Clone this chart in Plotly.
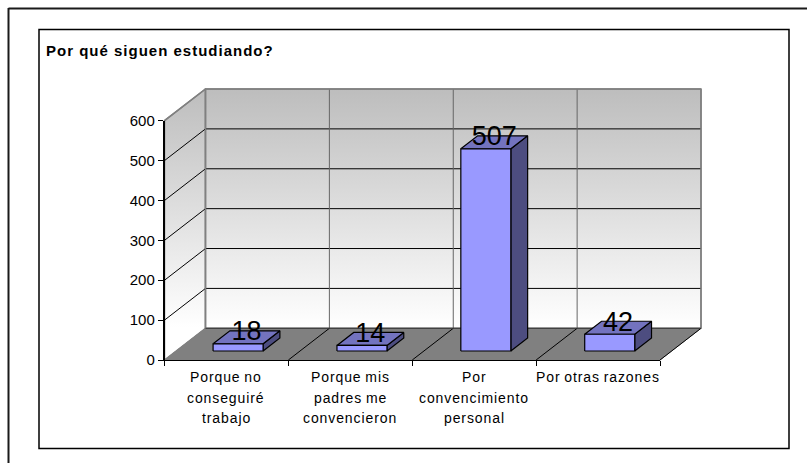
import plotly.graph_objects as go

# --- data ---
categories = [
    ["Porque no", "conseguiré", "trabajo"],
    ["Porque mis", "padres me", "convencieron"],
    ["Por", "convencimiento", "personal"],
    ["Por otras razones"],
]
values = [18, 14, 507, 42]
y_ticks = [0, 100, 200, 300, 400, 500, 600]
title = "Por qué siguen estudiando?"

# --- geometry (pixels of the picture) ---
W, H = 807, 463
L, R, T, B = 164.5, 660.0, 120.7, 360.0
YMAX = 600
ncat = len(categories)
UX = (R - L) / ncat              # pixels per category
UY = (B - T) / YMAX              # pixels per unit of value
DX = 41 / UX                     # wall depth, category units
DY = 31.7 / UY                   # wall depth, value units
BAR_W = 50 / UX
D0, D1 = 0.284, 0.694            # bar front / back, share of the depth
LABEL_DROP = 2.5 / UY            # data labels sit slightly below the bar's back edge

def px(x): return x / W
def py(y): return 1 - y / H

FONT = "Liberation Sans"
fig = go.Figure()

def poly(xs, ys, fill=None, line="black", width=1, gradient=None):
    kw = {}
    if gradient:
        kw["fillgradient"] = gradient
        kw["fill"] = "toself"
    elif fill:
        kw["fillcolor"] = fill
        kw["fill"] = "toself"
    fig.add_trace(go.Scatter(x=xs, y=ys, mode="lines", line=dict(color=line, width=width),
                             xaxis="x", yaxis="y", hoverinfo="skip", showlegend=False, **kw))

def wall_gradient():
    return dict(type="vertical", start=0, stop=YMAX + DY,
                colorscale=[[0, "#FFFFFF"], [0.12, "#FFFFFF"], [1, "#BDBDBD"]])

# walls
poly([0, DX, DX, 0, 0], [0, DY, YMAX + DY, YMAX, 0], line="#808080", width=1.5, gradient=wall_gradient())
poly([DX, ncat + DX, ncat + DX, DX, DX], [DY, DY, YMAX + DY, YMAX + DY, DY], line="#808080", width=1.5,
     gradient=wall_gradient())

# gridlines on walls
for v in y_ticks[1:-1]:
    poly([0, DX, ncat + DX], [v, v + DY, v + DY], line="#000000", width=1)
for i in range(1, ncat):
    poly([i + DX, i + DX], [DY, YMAX + DY], line="#666666", width=1)
poly([DX, DX], [DY, YMAX + DY], line="#808080", width=1.5)
poly([ncat + DX, ncat + DX], [DY, YMAX + DY], line="#808080", width=1.5)
poly([0, DX, ncat + DX], [YMAX, YMAX + DY, YMAX + DY], line="#808080", width=1.5)

# floor
poly([0, DX, ncat + DX, ncat, 0], [0, DY, DY, 0, 0], fill="#808080", line="#808080", width=1)
for i in range(1, ncat + 1):
    poly([i, i + DX], [0, DY], line="#000000", width=1)
poly([DX, ncat + DX], [DY, DY], line="#333333", width=1)

# bars
lab_x, lab_y = [], []
for i, v in enumerate(values):
    x0 = i + 0.5 - BAR_W / 2 + D0 * DX
    x1 = x0 + BAR_W
    ox, oy = (D1 - D0) * DX, (D1 - D0) * DY
    base = D0 * DY
    top = base + v
    poly([x1, x1 + ox, x1 + ox, x1, x1], [base, base + oy, top + oy, top, base], fill="#4D4D80", width=1.2)
    poly([x0, x1, x1 + ox, x0 + ox, x0], [top, top, top + oy, top + oy, top], fill="#7373BF", width=1.2)
    poly([x0, x1, x1, x0, x0], [base, base, top, top, base], fill="#9999FF", width=1.2)
    lab_x.append((x0 + x1 + ox) / 2)
    lab_y.append(top + oy - LABEL_DROP)

fig.add_trace(go.Scatter(x=lab_x, y=lab_y, mode="text", text=[str(v) for v in values],
                         textposition="middle center", hoverinfo="skip", showlegend=False,
                         xaxis="x", yaxis="y",
                         textfont=dict(family=FONT, size=27, color="black")))

# invisible trace that keeps the visible value/category axes alive
fig.add_trace(go.Scatter(x=[i + 0.5 for i in range(ncat)], y=values, mode="none", xaxis="x2", yaxis="y2",
                         hoverinfo="skip", showlegend=False))

# category labels, one annotation per line
SPACED = '<span style="letter-spacing:0.9px;word-spacing:-1px">{}</span>'
annotations = []
for i, lines in enumerate(categories):
    for j, line in enumerate(lines):
        annotations.append(dict(x=i + 0.5, y=0, xref="x2", yref="y2", text=SPACED.format(line), showarrow=False,
                                xanchor="center", yanchor="middle", yshift=-(17 + 20.5 * j),
                                font=dict(family=FONT, size=14, color="black")))

# frames
shapes = [
    dict(type="line", xref="paper", yref="paper", x0=px(8.5), x1=px(807), y0=py(8.5), y1=py(8.5),
         line=dict(color="#1a1a1a", width=2)),
    dict(type="line", xref="paper", yref="paper", x0=px(8.5), x1=px(8.5), y0=py(8), y1=py(463),
         line=dict(color="#1a1a1a", width=2)),
    dict(type="rect", xref="paper", yref="paper", x0=px(39), x1=px(789), y0=py(448.5), y1=py(29.5),
         line=dict(color="black", width=1.5)),
]

fig.update_layout(
    width=W, height=H, autosize=False,
    margin=dict(l=0, r=0, t=0, b=0, pad=0, autoexpand=False),
    paper_bgcolor="white", plot_bgcolor="rgba(0,0,0,0)",
    showlegend=False,
    title=dict(text='<b><span style="letter-spacing:1px">' + title + "</span></b>", x=46 / W, xanchor="left",
               xref="container", y=1 - 51 / H, yanchor="middle", yref="container",
               font=dict(family=FONT, size=15, color="black")),
    # geometry axes: whole canvas, hidden, same scale as the visible axes
    xaxis=dict(domain=[0, 1], range=[-L / UX, (W - L) / UX], visible=False, fixedrange=True),
    yaxis=dict(domain=[0, 1], range=[-(H - B) / UY, B / UY], visible=False, fixedrange=True),
    # visible axes
    xaxis2=dict(domain=[L / W, R / W], anchor="y2", range=[0, ncat], tickmode="array",
                tickvals=list(range(ncat + 1)), ticktext=[""] * (ncat + 1), ticks="outside", ticklen=5,
                tickcolor="black", showline=True, linecolor="black", linewidth=1, showgrid=False,
                zeroline=False, fixedrange=True),
    yaxis2=dict(domain=[1 - B / H, 1 - T / H], anchor="x2", range=[0, YMAX], tickmode="array",
                tickvals=y_ticks, ticks="outside", ticklen=5, tickcolor="black", showline=True,
                linecolor="black", linewidth=1.5, showgrid=False, zeroline=False, fixedrange=True,
                tickfont=dict(family=FONT, size=15, color="black")),
    shapes=shapes, annotations=annotations,
)

fig.write_html("out.html", config=dict(displayModeBar=False),
               post_script="document.body.style.margin='0';")
